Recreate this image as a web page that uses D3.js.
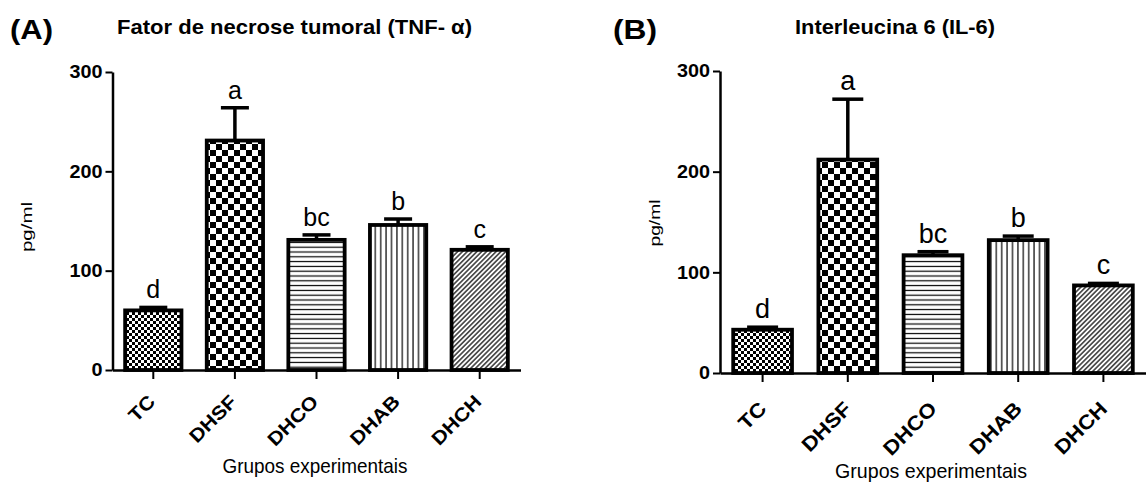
<!DOCTYPE html>
<html>
<head>
<meta charset="utf-8">
<script src="https://cdn.jsdelivr.net/npm/d3@7"></script>
<style>
  body { margin: 0; background: #fff; }
  svg { display: block; font-family: Arial, "Liberation Sans", sans-serif; }
</style>
</head>
<body>
<svg width="1146" height="485"></svg>
<script>
// data
const groups = ["TC", "DHSF", "DHCO", "DHAB", "DHCH"];
const tnfMean = [60, 231, 131, 146, 121];
const tnfErr = [3, 33, 5, 6, 3];
const tnfLetters = ["d", "a", "bc", "b", "c"];
const il6Mean = [43, 212, 117, 132, 87];
const il6Err = [2.5, 60, 3.5, 4, 2];
const il6Letters = ["d", "a", "bc", "b", "c"];
const yTicks = [0, 100, 200, 300];
const fills = ["fineCheck", "coarseCheck", "hLines", "vLines", "diag"];

const svg = d3.select("svg");
const defs = svg.append("defs");

// hatch patterns
function checker(id, s) {
  const p = defs.append("pattern").attr("id", id)
    .attr("patternUnits", "userSpaceOnUse").attr("width", 2 * s).attr("height", 2 * s);
  p.append("rect").attr("width", 2 * s).attr("height", 2 * s).attr("fill", "#fff");
  p.append("rect").attr("width", s).attr("height", s).attr("fill", "#000");
  p.append("rect").attr("x", s).attr("y", s).attr("width", s).attr("height", s).attr("fill", "#000");
}
checker("fineCheck", 3);
checker("coarseCheck", 6);

function lines(id, gap, angle) {
  const p = defs.append("pattern").attr("id", id)
    .attr("patternUnits", "userSpaceOnUse").attr("width", gap).attr("height", gap)
    .attr("patternTransform", "rotate(" + angle + ")");
  p.append("rect").attr("width", gap).attr("height", gap).attr("fill", "#fff");
  p.append("line").attr("x1", gap / 2).attr("x2", gap / 2).attr("y1", 0).attr("y2", gap)
    .attr("stroke", "#000").attr("stroke-width", 1.2);
}
lines("hLines", 4.8, 90);
lines("vLines", 5.4, 0);
lines("diag", 3.4, 45);

function stretch(sel, sx) {
  sel.each(function() {
    const w = this.getComputedTextLength();
    this.setAttribute("textLength", w * sx);
    this.setAttribute("lengthAdjust", "spacingAndGlyphs");
  });
}

function panel(o) {
  const y = d3.scaleLinear().domain([0, 300]).range([o.bottom, o.top]);
  const x = d3.scaleBand().domain(groups).range([o.left, o.right])
    .paddingInner(0.31).paddingOuter(0.155);
  const g = svg.append("g");
  const bw = x.bandwidth();

  g.selectAll(".bar").data(groups).join("rect")
    .attr("x", d => x(d))
    .attr("y", (d, i) => y(o.mean[i]))
    .attr("width", bw)
    .attr("height", (d, i) => y(0) - y(o.mean[i]))
    .attr("fill", (d, i) => "url(#" + fills[i] + ")")
    .attr("stroke", "#000").attr("stroke-width", 3.8);

  const eb = g.selectAll(".err").data(groups).join("g");
  eb.append("line")
    .attr("x1", d => x(d) + bw / 2).attr("x2", d => x(d) + bw / 2)
    .attr("y1", (d, i) => y(o.mean[i])).attr("y2", (d, i) => y(o.mean[i] + o.err[i]))
    .attr("stroke", "#000").attr("stroke-width", 3.5);
  eb.append("line")
    .attr("x1", d => x(d) + bw / 2 - o.capW / 2).attr("x2", d => x(d) + bw / 2 + o.capW / 2)
    .attr("y1", (d, i) => y(o.mean[i] + o.err[i])).attr("y2", (d, i) => y(o.mean[i] + o.err[i]))
    .attr("stroke", "#000").attr("stroke-width", 3.5);

  g.selectAll(".sig").data(groups).join("text")
    .attr("x", d => x(d) + bw / 2)
    .attr("y", (d, i) => y(o.mean[i] + o.err[i]) - 9)
    .attr("text-anchor", "middle")
    .attr("font-size", o.letterSize)
    .text((d, i) => o.letters[i]);

  // axes
  const ya = g.append("g").attr("transform", "translate(" + o.left + ",0)")
    .call(d3.axisLeft(y).tickValues(yTicks).tickSize(7).tickSizeOuter(0));
  ya.select(".domain").attr("stroke-width", 2.5);
  ya.selectAll(".tick line").attr("stroke-width", 2);
  ya.selectAll(".tick text").attr("x", -10).attr("font-size", 18).attr("font-weight", "bold")
    .attr("fill", "#000").attr("font-family", "Arial, 'Liberation Sans', sans-serif");
  stretch(ya.selectAll(".tick text"), 1.1);

  const xa = g.append("g").attr("transform", "translate(0," + o.bottom + ")")
    .call(d3.axisBottom(x).tickSize(9).tickSizeOuter(0).tickFormat(""));
  xa.select(".domain").attr("stroke-width", 2.5);
  xa.selectAll(".tick line").attr("stroke-width", 2);

  const xl = g.selectAll(".xl").data(groups).join("text")
    .attr("transform", d => "translate(" + (x(d) + bw / 2 + o.xlDx) + "," + (o.bottom + o.xlDy) + ") rotate(-45)")
    .attr("text-anchor", "end")
    .attr("font-size", o.xlSize).attr("font-weight", "bold")
    .text(d => d);
  stretch(xl, 1.12);

  g.append("text").attr("x", o.xTitleX).attr("y", o.xTitleY)
    .attr("text-anchor", "middle").attr("font-size", 21)
    .attr("textLength", o.xTitleW).attr("lengthAdjust", "spacingAndGlyphs")
    .text("Grupos experimentais");

  g.append("text")
    .attr("transform", "translate(" + o.ylabX + "," + o.ylabY + ") rotate(-90)")
    .attr("text-anchor", "middle").attr("font-size", 15)
    .attr("textLength", o.ylabW).attr("lengthAdjust", "spacingAndGlyphs")
    .text("pg/ml");

  g.append("text").attr("x", o.tagX).attr("y", 39)
    .attr("font-size", 28).attr("font-weight", "bold")
    .attr("textLength", o.tagW).attr("lengthAdjust", "spacingAndGlyphs")
    .text(o.tag);

  g.append("text").attr("x", o.titleX).attr("y", 34)
    .attr("font-size", 21).attr("font-weight", "bold")
    .attr("textLength", o.titleW).attr("lengthAdjust", "spacingAndGlyphs")
    .text(o.title);
}

panel({
  left: 112.5, right: 520.5, top: 72, bottom: 370,
  mean: tnfMean, err: tnfErr, letters: tnfLetters,
  capW: 28, letterSize: 25, xlSize: 19, xlDx: 3, xlDy: 33,
  xTitleX: 315, xTitleY: 473, xTitleW: 185,
  ylabX: 32, ylabY: 227, ylabW: 50,
  tag: "(A)", tagX: 10, tagW: 43,
  title: "Fator de necrose tumoral (TNF- α)", titleX: 117, titleW: 355
});

panel({
  left: 720, right: 1146, top: 71, bottom: 373,
  mean: il6Mean, err: il6Err, letters: il6Letters,
  capW: 31, letterSize: 27, xlSize: 20, xlDx: 5, xlDy: 37,
  xTitleX: 931, xTitleY: 478, xTitleW: 192,
  ylabX: 660, ylabY: 223, ylabW: 47,
  tag: "(B)", tagX: 613, tagW: 44,
  title: "Interleucina 6 (IL-6)", titleX: 795, titleW: 200
});
</script>
</body>
</html>
